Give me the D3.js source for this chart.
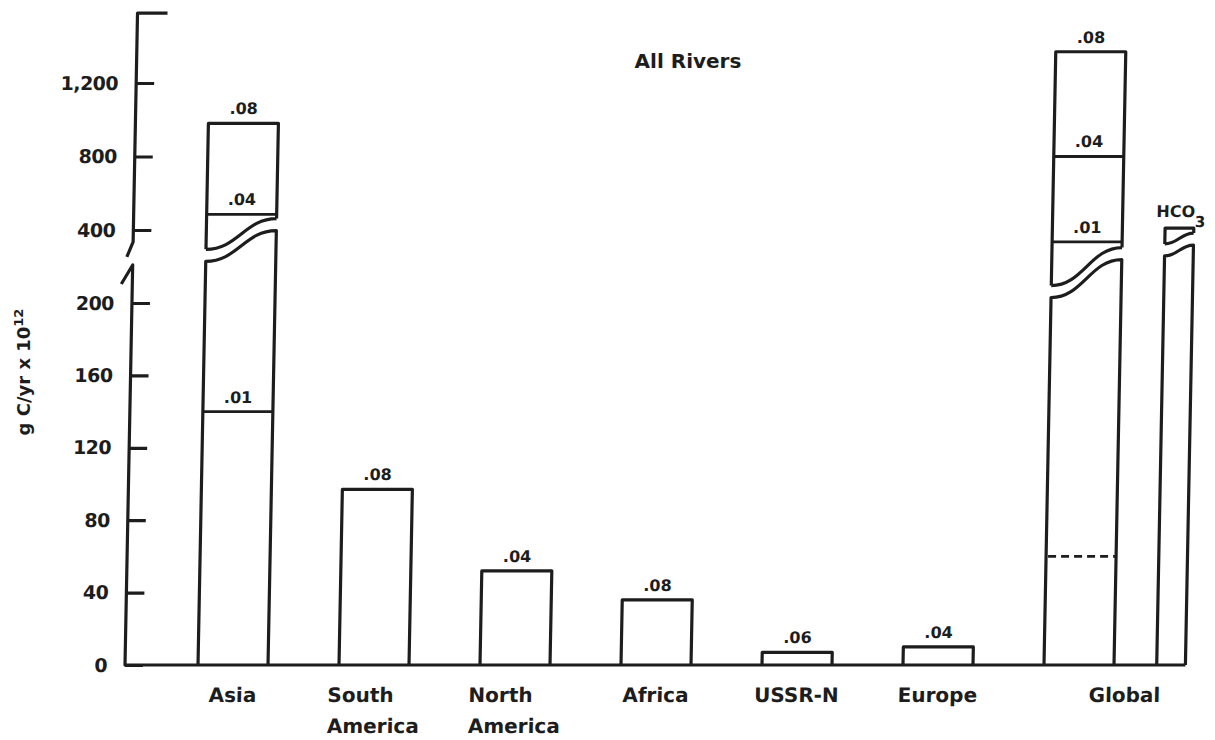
<!DOCTYPE html>
<html>
<head>
<meta charset="utf-8">
<script src="https://cdn.jsdelivr.net/npm/d3@7"></script>
<style>
  body { margin: 0; background: #fff; }
  text { font-family: "DejaVu Sans", sans-serif; font-weight: bold; fill: #1d1d1d; }
</style>
</head>
<body>
<svg id="chart" width="1215" height="740"></svg>
<script>
// Organic carbon carried by rivers, g C/yr x 10^12, by region
const categories = ["Asia", "South America", "North America", "Africa", "USSR-N", "Europe", "Global"];
const topValues = [980, 97, 52, 36, 7, 10, 1370];
const topLabels = [".08", ".08", ".04", ".08", ".06", ".04", ".08"];

// intermediate levels inside the Asia and Global columns
const levelCategories = ["Asia", "Asia", "Global", "Global"];
const levelValues = [140, 485, 335, 800];
const levelLabels = [".01", ".04", ".01", ".04"];

// dashed level inside the Global column
const dashedCategory = "Global";
const dashedValue = 60;

// bicarbonate column drawn beside Global
const hco3Value = 410;

// axis ticks: lower (0-200) and upper (400-1,200) segments of the broken axis
const lowerTicks = [0, 40, 80, 120, 160, 200];
const upperTicks = [400, 800, 1200];
const upperTickLabels = ["400", "800", "1,200"];

// where the tall columns are cut, as values on the lower scale [left edge, right edge]
const breakKeys = ["Asia", "Global", "HCO3"];
const breakLeft = [223, 203, 226];
const breakRight = [240, 224, 232];

// ---- layout ----
const baseY = 665;
const axisX = 125;
const ink = "#1d1d1d";
const lw = 3.2;
const breakGap = 12;

const svg = d3.select("#chart");

// scanned page sits with a slight lean; shear about the baseline
const g = svg.append("g")
  .attr("transform", `translate(0,${baseY}) skewX(-1.1) translate(0,${-baseY})`);

const yLo = d3.scaleLinear().domain([0, 200]).range([baseY, 303]);
const yHi = d3.scaleLinear().domain([400, 1200]).range([230, 83]);
const splitValue = 250;
const y = v => (v > splitValue ? yHi(v) : yLo(v));

const x = d3.scaleBand().domain(categories).range([198, 1114]).paddingInner(0.5035).paddingOuter(0);
const bw = x.bandwidth();

// bicarbonate column position next to Global
const hX0 = x("Global") + bw * 1.61;
const hW = bw * 0.41;

// ---- axis ----
const axisTopValue = 1580;
const axisCutHi = 335;   // upper axis segment ends here (upper scale)
const axisCutLo = 221;   // lower axis segment starts here (lower scale)

const lowerAxis = d3.axisLeft(yLo).tickValues(lowerTicks).tickSize(-18).tickPadding(18);
const upperAxis = d3.axisLeft(yHi).tickValues(upperTicks)
  .tickFormat((d, i) => upperTickLabels[i]).tickSize(-18).tickPadding(18);

[lowerAxis, upperAxis].forEach(ax => {
  const a = g.append("g").attr("transform", `translate(${axisX},0)`).call(ax);
  a.select(".domain").remove();
  a.selectAll(".tick line").attr("stroke", ink).attr("stroke-width", lw);
  a.selectAll(".tick text").attr("font-size", 19).attr("fill", ink)
    .style("font-family", "'DejaVu Sans', sans-serif").style("font-weight", "bold")
    .style("letter-spacing", "-0.5px");
});

const yTop = yHi(axisTopValue);
const yCutHi = yHi(axisCutHi);
const yCutLo = yLo(axisCutLo);

g.append("path")
  .attr("d", `M${axisX + 30},${yTop} L${axisX},${yTop} L${axisX},${yCutHi} L${axisX - 6},${yCutHi + 15}`)
  .attr("fill", "none").attr("stroke", ink).attr("stroke-width", lw).attr("stroke-linejoin", "round");

g.append("path")
  .attr("d", `M${axisX - 11},${yCutLo + 19} L${axisX},${yCutLo} L${axisX},${baseY} L${hX0 + hW},${baseY}`)
  .attr("fill", "none").attr("stroke", ink).attr("stroke-width", lw).attr("stroke-linejoin", "round");

// ---- columns ----
function sCurve(x0, yl, x1, yr) {
  const w = x1 - x0;
  return `C${x0 + w * 0.45},${yl} ${x1 - w * 0.45},${yr} ${x1},${yr}`;
}

function drawColumn(x0, w, top, key) {
  const x1 = x0 + w;
  const yt = y(top);
  const bi = breakKeys.indexOf(key);
  if (bi < 0) {
    g.append("path")
      .attr("d", `M${x0},${baseY} L${x0},${yt} L${x1},${yt} L${x1},${baseY}`)
      .attr("fill", "none").attr("stroke", ink).attr("stroke-width", lw).attr("stroke-linejoin", "round");
    return;
  }
  const yl = yLo(breakLeft[bi]);
  const yr = yLo(breakRight[bi]);
  // lower piece, open at the baseline, wavy top
  g.append("path")
    .attr("d", `M${x0},${baseY} L${x0},${yl} ${sCurve(x0, yl, x1, yr)} L${x1},${baseY}`)
    .attr("fill", "none").attr("stroke", ink).attr("stroke-width", lw).attr("stroke-linejoin", "round");
  // upper piece with matching wavy bottom
  const ul = yl - breakGap, ur = yr - breakGap;
  g.append("path")
    .attr("d", `M${x0},${ul} L${x0},${yt} L${x1},${yt} L${x1},${ur} M${x0},${ul} ${sCurve(x0, ul, x1, ur)}`)
    .attr("fill", "none").attr("stroke", ink).attr("stroke-width", lw).attr("stroke-linejoin", "round");
}

categories.forEach((c, i) => drawColumn(x(c), bw, topValues[i], c));
drawColumn(hX0, hW, hco3Value, "HCO3");

// level lines
levelCategories.forEach((c, i) => {
  g.append("line")
    .attr("x1", x(c)).attr("x2", x(c) + bw)
    .attr("y1", y(levelValues[i])).attr("y2", y(levelValues[i]))
    .attr("stroke", ink).attr("stroke-width", 2.8);
});

g.append("line")
  .attr("x1", x(dashedCategory) + 2).attr("x2", x(dashedCategory) + bw)
  .attr("y1", yLo(dashedValue)).attr("y2", yLo(dashedValue))
  .attr("stroke", ink).attr("stroke-width", 2.8).attr("stroke-dasharray", "8,5");

// value labels
const labelLift = 9;
categories.forEach((c, i) => {
  g.append("text")
    .attr("x", x(c) + bw / 2).attr("y", y(topValues[i]) - labelLift)
    .attr("text-anchor", "middle").attr("font-size", 16)
    .text(topLabels[i]);
});
levelCategories.forEach((c, i) => {
  g.append("text")
    .attr("x", x(c) + bw / 2).attr("y", y(levelValues[i]) - labelLift)
    .attr("text-anchor", "middle").attr("font-size", 16)
    .text(levelLabels[i]);
});

const hLabel = g.append("text")
  .attr("x", hX0 - 9).attr("y", y(hco3Value) - 11)
  .attr("font-size", 16);
hLabel.append("tspan").text("HCO");
hLabel.append("tspan").attr("dy", 10).attr("font-size", 15).text("3");

// category labels
const catY = 702, lineGap = 31;
categories.forEach(c => {
  const words = c.split(" ");
  let cx = x(c) + bw / 2;
  if (c === "Global") cx = ((x(c) + bw / 2) + (hX0 + hW / 2)) / 2;
  const t = g.append("text").attr("font-size", 20).attr("y", catY);
  words.forEach((w, k) => {
    t.append("tspan").attr("x", cx).attr("y", catY + k * lineGap).text(w);
  });
  if (words.length > 1) {
    // lines share a left edge, block centred under the column
    let widest = 0;
    t.selectAll("tspan").each(function () { widest = Math.max(widest, this.getComputedTextLength()); });
    t.selectAll("tspan").attr("x", cx - widest / 2);
  } else {
    t.attr("text-anchor", "middle").select("tspan").attr("text-anchor", "middle");
  }
});

// title and axis label
svg.append("text")
  .attr("x", 688).attr("y", 68).attr("text-anchor", "middle").attr("font-size", 20)
  .text("All Rivers");

const yl = svg.append("text")
  .attr("transform", "translate(30,372) rotate(-90)")
  .attr("text-anchor", "middle").attr("font-size", 18);
yl.append("tspan").text("g C/yr x 10");
yl.append("tspan").attr("dy", -7).attr("font-size", 13).text("12");
</script>
</body>
</html>
